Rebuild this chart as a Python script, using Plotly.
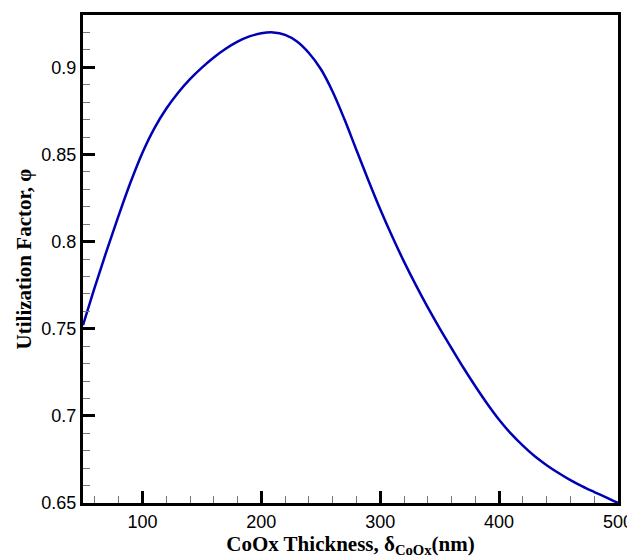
import plotly.graph_objects as go

thickness = [50, 60, 70, 80, 90, 100, 110, 120, 130, 140, 150, 160, 170, 180, 190, 200,
             210, 220, 230, 240, 250, 260, 270, 280, 290, 300, 310, 320, 330, 340, 350,
             360, 370, 380, 390, 400, 410, 420, 430, 440, 450, 460, 470, 480, 490, 500]
utilization = [0.752, 0.774, 0.795, 0.815, 0.834, 0.851, 0.865, 0.8762, 0.8854, 0.8932,
               0.8998, 0.9056, 0.9106, 0.9147, 0.9177, 0.9195, 0.9200, 0.9186, 0.9148,
               0.9082, 0.8990, 0.8860, 0.8700, 0.8525, 0.8352, 0.8185, 0.8030, 0.7885,
               0.7750, 0.7622, 0.7502, 0.7388, 0.7276, 0.7170, 0.7070, 0.6978, 0.6898,
               0.6829, 0.6768, 0.6717, 0.6672, 0.6631, 0.6595, 0.6563, 0.6532, 0.6500]

fig = go.Figure()
fig.add_trace(go.Scatter(x=thickness, y=utilization, mode="lines",
                         line=dict(color="#0000b4", width=2.5, shape="spline", smoothing=1.0)))

# page body has an 8px margin, so the figure is drawn 8px in from the corner
fig.update_layout(
    width=627, height=550,
    margin=dict(l=75, r=17, t=7, b=55),
    plot_bgcolor="white", paper_bgcolor="white",
    showlegend=False,
    font=dict(family="Liberation Sans, Arial", size=18, color="black"),
)
fig.update_xaxes(
    range=[50, 500], tick0=0, dtick=100, automargin=False,
    ticks="inside", ticklen=12, tickwidth=3, tickcolor="black",
    showline=True, linecolor="black", linewidth=3, mirror=True,
    showgrid=False, zeroline=False,
    minor=dict(ticks="inside", ticklen=7, tickwidth=1, tickcolor="#777", dtick=20, tick0=0, showgrid=False),
    title=dict(text="<b>CoOx Thickness, δ<sub>CoOx</sub>(nm)</b>",
               font=dict(family="Liberation Serif, Times New Roman", size=21, color="black"),
               standoff=4),
    tickfont=dict(size=18),
)
fig.update_yaxes(
    range=[0.65, 0.93], tick0=0.65, dtick=0.05, automargin=False,
    ticks="inside", ticklen=12, tickwidth=3, tickcolor="black",
    showline=True, linecolor="black", linewidth=3, mirror=True,
    showgrid=False, zeroline=False,
    minor=dict(ticks="inside", ticklen=7, tickwidth=1, tickcolor="#777", dtick=0.01, tick0=0.65, showgrid=False),
    title=dict(text="<b>Utilization Factor, φ</b>",
               font=dict(family="Liberation Serif, Times New Roman", size=21, color="black"),
               standoff=5),
    tickfont=dict(size=18),
)

fig.write_html("out.html")
